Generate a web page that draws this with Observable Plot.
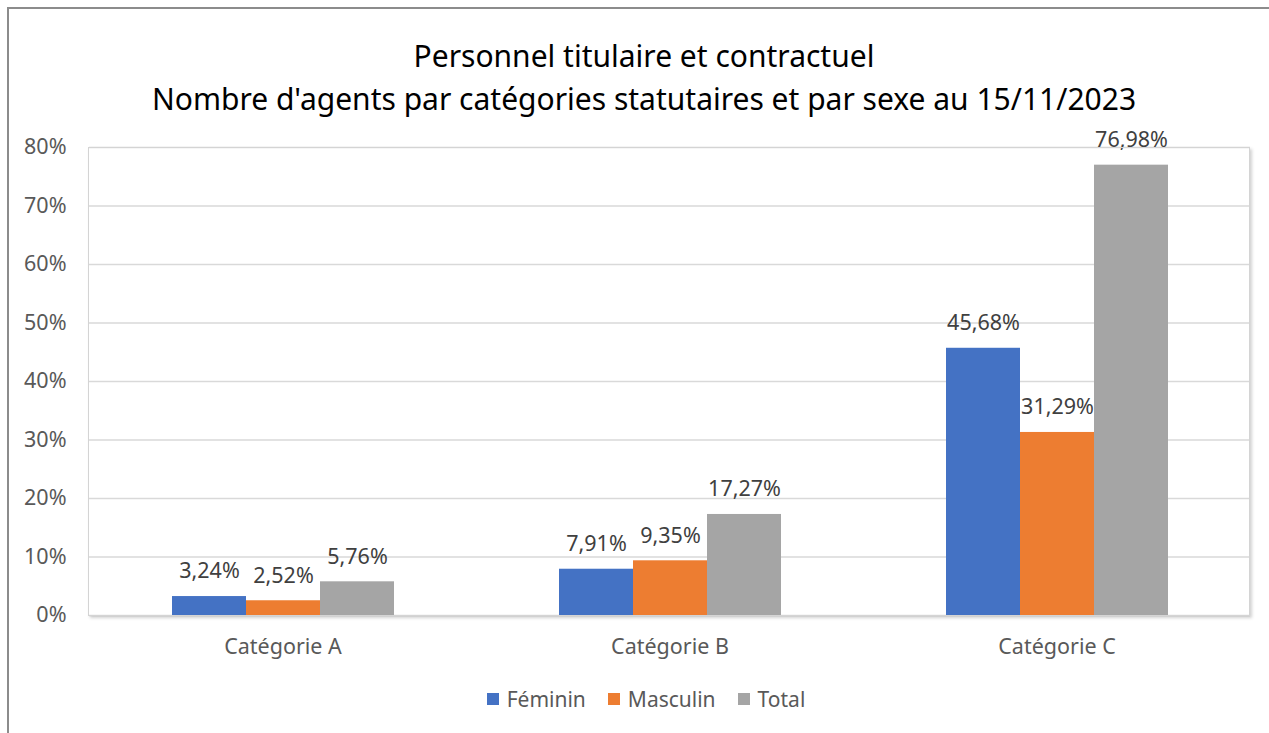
<!DOCTYPE html>
<html>
<head>
<meta charset="utf-8">
<script src="https://cdn.jsdelivr.net/npm/d3@7"></script>
<script src="https://cdn.jsdelivr.net/npm/@observablehq/plot@0.6"></script>
<style>
  html, body { margin: 0; padding: 0; background: #fff; overflow: hidden; }
  body { width: 1269px; height: 733px; position: relative; font-family: "Noto Sans", "Open Sans", sans-serif; }
  #outer { position: absolute; left: 7px; top: 7px; width: 1300px; height: 760px; border: 2px solid #8c8c8c; box-sizing: border-box; }
  .title { position: absolute; left: 0; width: 1288px; text-align: center; color: #000; font-size: 30px; line-height: 1; white-space: nowrap; }
  #chart { position: absolute; left: 0; top: 120px; }
  #frame { position: absolute; pointer-events: none; border: 1px solid #d4d4d4; box-shadow: 2px 2px 3px rgba(0,0,0,0.18); box-sizing: border-box; }
  #legend { position: absolute; left: 0; width: 1292px; top: 685px; display: flex; justify-content: center; align-items: center; font-size: 21px; color: #595959; }
  .item { display: flex; align-items: center; margin: 0 11px; }
  .sw { width: 12px; height: 12px; margin-right: 8px; }
</style>
</head>
<body>
<div id="outer"></div>
<div class="title" id="t1" style="top:41px"></div>
<div class="title" id="t2" style="top:84px"></div>
<div id="chart"></div>
<div id="frame"></div>
<div id="legend"></div>
<script>
const titleLines = ["Personnel titulaire et contractuel", "Nombre d'agents par catégories statutaires et par sexe au 15/11/2023"];
const categories = ["Catégorie A", "Catégorie B", "Catégorie C"];
const series = ["Féminin", "Masculin", "Total"];
const colors = ["#4472C4", "#ED7D31", "#A5A5A5"];
const feminin = [3.24, 7.91, 45.68];
const masculin = [2.52, 9.35, 31.29];
const total = [5.76, 17.27, 76.98];
const yTicks = [0, 10, 20, 30, 40, 50, 60, 70, 80];

document.getElementById("t1").textContent = titleLines[0];
document.getElementById("t2").textContent = titleLines[1];

const seriesValues = [feminin, masculin, total];
const rows = [];
categories.forEach((c, i) => series.forEach((s, j) => rows.push({cat: c, serie: s, value: seriesValues[j][i]})));

const W = 1269, H = 550, mL = 88, mR = 19, mT = 27, mB = 55;
const fmt = v => v.toFixed(2).replace(".", ",") + "%";

const plot = Plot.plot({
  width: W, height: H,
  marginLeft: mL, marginRight: mR, marginTop: mT, marginBottom: mB,
  style: {fontFamily: '"Noto Sans", "Open Sans", sans-serif', fontSize: "21.5px", color: "#595959", background: "transparent", overflow: "visible"},
  fx: {domain: categories, padding: 0, label: null, axis: "bottom", tickSize: 0, tickPadding: 23},
  x: {domain: series, paddingInner: 0, paddingOuter: 1.1, axis: null},
  y: {domain: [0, 80], ticks: yTicks, tickFormat: d => d + "%", label: null, tickSize: 0, tickPadding: 23},
  color: {domain: series, range: colors},
  marks: [
    Plot.gridY(yTicks, {stroke: "#d9d9d9", strokeOpacity: 1, strokeWidth: 1.3}),
    Plot.barY(rows, {fx: "cat", x: "serie", y: "value", fill: "serie"}),
    Plot.text(rows, {fx: "cat", x: "serie", y: "value", text: d => fmt(d.value), dy: -25, fill: "#404040", fontSize: 21.5})
  ]
});
document.getElementById("chart").appendChild(plot);

const fr = document.getElementById("frame");
fr.style.left = mL + "px";
fr.style.top = (120 + mT) + "px";
fr.style.width = (W - mL - mR) + "px";
fr.style.height = (H - mT - mB + 1) + "px";

const lg = document.getElementById("legend");
series.forEach((s, i) => {
  const it = document.createElement("div");
  it.className = "item";
  const sw = document.createElement("div");
  sw.className = "sw";
  sw.style.background = colors[i];
  const tx = document.createElement("span");
  tx.textContent = s;
  it.appendChild(sw); it.appendChild(tx);
  lg.appendChild(it);
});
</script>
</body>
</html>
